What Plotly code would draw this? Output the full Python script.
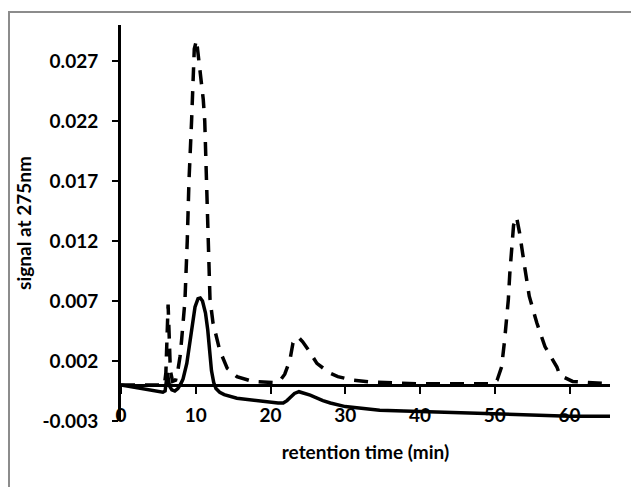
import plotly.graph_objects as go

# Retention time (min) and UV signal at 275 nm for the two chromatograms
solid_time = [0, 2, 4, 5.6, 5.9, 6.2, 6.5, 6.8, 7.2, 7.6, 8.0, 8.3, 8.8, 9.4, 9.9,
              10.3, 10.6, 10.9, 11.3, 11.6, 11.9, 12.1, 12.4, 12.7, 13.2, 13.8,
              15.5, 18.0, 21.0, 21.7, 22.2, 22.7, 23.2, 23.8, 24.5, 25.3, 27.0,
              28.0, 30.0, 31.5, 34.6, 40.0, 45.0, 50.0, 55.0, 60.0, 65.4]
solid_signal = [0, -0.0002, -0.0004, -0.0006, -0.0005, 0.0010, -0.0001, -0.0004,
                -0.0005, -0.0003, 0.0001, 0.0005, 0.0018, 0.0046, 0.0065, 0.0072,
                0.00725, 0.0070, 0.0060, 0.0046, 0.0025, 0.0012, 0.0002, -0.0003,
                -0.0006, -0.0008, -0.0011, -0.0013, -0.0015, -0.0015, -0.0013,
                -0.0010, -0.0007, -0.00056, -0.0007, -0.00085, -0.0013, -0.0015,
                -0.0018, -0.0019, -0.0021, -0.0022, -0.0023, -0.0024, -0.0025,
                -0.0026, -0.0026]

dashed_time = [0, 5.8, 6.0, 6.15, 6.3, 6.45, 6.6, 6.9, 7.3, 7.6, 7.9, 8.1, 8.55,
               8.86, 9.09, 9.44, 9.65, 9.8, 10.1, 10.6, 11.0, 11.2, 11.45, 11.66,
               11.9, 12.3, 13.2, 14.2, 15.5, 17.6, 19.5, 20.5, 21.3, 21.9, 22.6,
               23.0, 23.7, 24.3, 25.3, 26.2, 27.9, 29.0, 31.0, 33.3, 40.0, 49.5,
               50.3, 50.9, 51.3, 51.8, 52.0, 52.3, 52.5, 52.9, 53.3, 54.0, 54.6,
               55.6, 56.7, 58.3, 58.7, 60.4, 62.3, 65.4]
dashed_signal = [0, 0, 0.0010, 0.0045, 0.0067, 0.0040, 0.0012, 0.0003, 0.0004,
                 0.0012, 0.0024, 0.0037, 0.0070, 0.0120, 0.0170, 0.0220, 0.0265,
                 0.0280, 0.02875, 0.0260, 0.0238, 0.0220, 0.0170, 0.0120, 0.0072,
                 0.0052, 0.0029, 0.0014, 0.0007, 0.0003, 0.00025, 0.0002, 0.0004,
                 0.0009, 0.0021, 0.0035, 0.0040, 0.0036, 0.0027, 0.0018, 0.0010,
                 0.0007, 0.0004, 0.00025, 0.0001, 0.0001, 0.0004, 0.0015, 0.0037,
                 0.0071, 0.0093, 0.0115, 0.0133, 0.0140, 0.0127, 0.0098, 0.0074,
                 0.0052, 0.0032, 0.0015, 0.0008, 0.0003, 0.0002, 0.0001]

y_ticks = [-0.003, 0.002, 0.007, 0.012, 0.017, 0.022, 0.027]
x_ticks = [0, 10, 20, 30, 40, 50, 60]

X_RANGE = [0, 65.4]
Y_RANGE = [-0.003, 0.030]

W, H = 631, 487
M_L, M_R, M_T, M_B = 121, 21, 25, 66
plot_w = W - M_L - M_R
plot_h = H - M_T - M_B

FONT = dict(family="Lato, 'Open Sans', sans-serif", size=19, color="black", weight="bold")

fig = go.Figure()
fig.add_trace(go.Scatter(x=dashed_time, y=dashed_signal, mode="lines",
                         line=dict(color="black", width=3.5, dash="14px,10px"),
                         hoverinfo="skip", showlegend=False))
fig.add_trace(go.Scatter(x=solid_time, y=solid_signal, mode="lines",
                         line=dict(color="black", width=3.5),
                         hoverinfo="skip", showlegend=False))

# horizontal axis sits on the zero line of the signal axis
zero_pos = (0 - Y_RANGE[0]) / (Y_RANGE[1] - Y_RANGE[0])

fig.update_layout(
    width=W, height=H,
    margin=dict(l=M_L, r=M_R, t=M_T, b=M_B, pad=0),
    paper_bgcolor="white", plot_bgcolor="white",
    font=FONT,
    xaxis=dict(range=X_RANGE, tickvals=x_ticks, ticktext=[str(v) for v in x_ticks],
               anchor="free", position=zero_pos,
               showline=True, linecolor="black", linewidth=3,
               ticks="outside", ticklen=7, tickwidth=2, tickcolor="black",
               ticklabelstandoff=5,
               showgrid=False, zeroline=False,
               title=dict(text="retention time (min)", font=FONT, standoff=20)),
    yaxis=dict(range=Y_RANGE, tickvals=y_ticks,
               ticktext=[f"{v:.3f}" for v in y_ticks],
               showline=True, linecolor="black", linewidth=3,
               ticks="outside", ticklen=6, tickwidth=2, tickcolor="black",
               ticklabelstandoff=10,
               showgrid=False, zeroline=False,
               title=dict(text="signal at 275nm", font=FONT, standoff=6)),
    shapes=[dict(type="rect", xref="paper", yref="paper",
                 x0=(9 - M_L) / plot_w, x1=(W + 20 - M_L) / plot_w,
                 y0=-(M_B + 30) / plot_h, y1=(H - M_B - 12) / plot_h,
                 line=dict(color="#8c8c8c", width=2), fillcolor="rgba(0,0,0,0)",
                 layer="below")],
)

fig.write_html("out.html")
